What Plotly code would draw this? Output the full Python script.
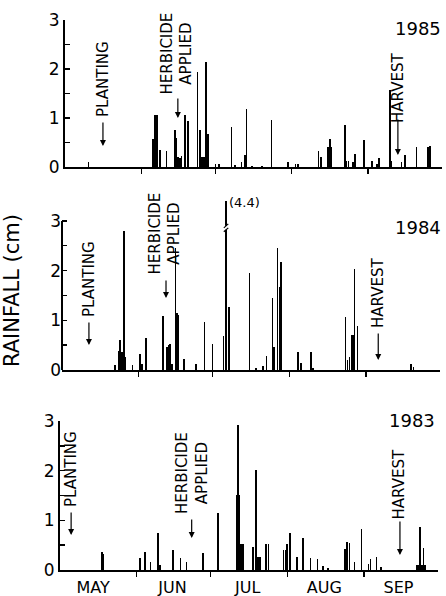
import plotly.graph_objects as go

# ---------------- data ----------------
months = ["MAY", "JUN", "JUL", "AUG", "SEP"]
month_label_days = [13.4, 45.5, 76.0, 107.0, 137.0]   # days after 1 May where month names sit
month_starts = [31, 61, 92, 123]                        # Jun 1, Jul 1, Aug 1, Sep 1
season_length = 153                                     # 1 May .. 30 Sep

years = ["1985", "1984", "1983"]

days_1985 = [9.5, 35.6, 36.5, 37.4, 38.5, 41.2, 44.6, 45.3, 45.9, 46.6, 47.2, 48.7, 50.0,
             53.8, 54.8, 55.6, 56.4, 57.1, 58.0, 61.0, 62.5, 67.6, 69.0, 71.7, 73.0, 73.7,
             76.0, 80.0, 83.8, 90.6, 93.5, 94.5, 102.8, 104.0, 106.8, 107.5, 108.2, 113.6,
             114.3, 115.0, 116.8, 117.6, 121.3, 124.6, 126.5, 127.5, 131.8, 132.5, 136.6,
             137.9, 142.7, 147.3, 148.1]
rain_1985 = [0.1, 0.57, 1.06, 1.06, 0.35, 0.33, 0.75, 0.6, 0.2, 0.18, 0.22, 1.07, 0.93,
             1.93, 0.75, 0.2, 0.2, 2.14, 0.68, 0.07, 0.07, 0.82, 0.05, 0.1, 0.24, 1.18,
             0.03, 0.03, 0.95, 0.11, 0.07, 0.07, 0.33, 0.21, 0.4, 0.57, 0.4, 0.86,
             0.12, 0.12, 0.1, 0.26, 0.55, 0.12, 0.07, 0.18, 1.57, 0.12, 0.1,
             0.25, 0.41, 0.41, 0.42]

days_1984 = [21.5, 22.8, 23.5, 24.2, 25.1, 25.6, 28.6, 31.6, 32.3, 33.9, 40.8, 42.4, 43.1,
             43.8, 44.4, 46.0, 46.5, 47.0, 49.4, 54.3, 57.6, 60.9, 65.3, 66.4, 67.7, 75.9,
             78.5, 81.4, 82.8, 85.2, 85.8, 87.3, 88.0, 88.7, 95.4, 96.7, 100.7, 101.5,
             114.8, 115.6, 116.4, 117.1, 117.7, 118.4, 119.6, 141.3, 142.3]
rain_1984 = [0.1, 0.39, 0.6, 0.37, 2.8, 0.27, 0.1, 0.33, 0.13, 0.65, 1.08, 0.47, 0.5,
             0.52, 0.13, 2.46, 1.14, 1.1, 0.23, 0.12, 0.96, 0.52, 0.69, 4.4, 1.27, 1.96,
             0.05, 0.08, 0.29, 1.44, 0.47, 2.46, 1.67, 2.18, 0.37, 0.15, 0.37, 0.05,
             1.06, 0.2, 0.27, 0.7, 0.7, 2.04, 0.88, 0.13, 0.07]

days_1983 = [16.9, 17.6, 32.5, 34.5, 36.6, 39.7, 40.5, 45.8, 48.7, 51.2, 58.0, 64.0, 71.6,
             72.1, 72.6, 73.3, 74.0, 78.2, 79.3, 80.1, 81.0, 83.5, 84.4, 90.5, 91.3, 92.0,
             93.0, 96.0, 98.3, 101.4, 104.2, 106.5, 108.5, 115.4, 116.2, 117.2, 119.2,
             122.0, 124.9, 125.6, 128.1, 130.0, 144.5, 145.2, 145.7, 146.4, 147.2, 147.8]
rain_1983 = [0.37, 0.32, 0.24, 0.36, 0.17, 0.74, 0.1, 0.4, 0.24, 0.16, 0.34, 1.15, 1.52,
             2.91, 1.52, 0.53, 0.53, 0.47, 2.02, 0.26, 0.26, 0.53, 0.53, 0.4, 0.4, 0.53,
             0.74, 0.27, 0.64, 0.24, 0.22, 0.09, 0.05, 0.42, 0.56, 0.54, 0.17,
             0.83, 0.12, 0.22, 0.27, 0.07, 0.1, 0.1, 0.86, 0.1, 0.44, 0.1]

planting_days = [15.4, 10.9, 4.5]
herbicide_days = [45.8, 42.1, 53.3]
harvest_days = [135.1, 128.0, 137.6]

y_tick_vals = [0, 0.5, 1, 1.5, 2, 2.5, 3]
y_tick_text = ["0", "", "1", "", "2", "", "3"]

# ---------------- layout geometry (pixels) ----------------
W, H = 446, 596
FONT = "DejaVu Sans"
panels = [
    dict(x0=65, x1=442, ybot=167, ytop=20, ymax=3.0),
    dict(x0=62, x1=440, ybot=370, ytop=201, ymax=3.4),
    dict(x0=60, x1=438, ybot=570, ytop=421, ymax=3.0),
]
series = [(days_1985, rain_1985), (days_1984, rain_1984), (days_1983, rain_1983)]

# label positions in pixels: (text centre x, text centre y, arrow tail y, arrow head y)
plant_px = [(103, 79, 121, 146), (89, 279, 321, 345), (71, 469, 511, 535)]
herb_px = [(176.5, 54, 97, 118), (164.5, 234, 279, 298), (192, 473, 518, 538)]
harv_px = [(398, 88, 118, 155), (378, 293, 332, 360), (398.5, 485, 520, 555)]
year_px = [(443, 28), (443, 227), (437, 420)]


def px(xp):
    return xp / W


def py(yp):
    return 1 - yp / H


fig = go.Figure()
annotations = []
shapes = []
layout = {}

for i, (p, (d, r)) in enumerate(zip(panels, series)):
    n = "" if i == 0 else str(i + 1)
    fig.add_trace(go.Bar(x=d, y=r, width=0.65, marker=dict(color="black", line=dict(width=0)),
                         xaxis="x" + n, yaxis="y" + n, showlegend=False, hoverinfo="skip"))
    layout["xaxis" + n] = dict(
        domain=[px(p["x0"]), px(p["x1"])], range=[0, season_length], anchor="y" + n,
        showline=True, linewidth=2, linecolor="black", showgrid=False, zeroline=False,
        tickmode="array", tickvals=month_label_days, ticktext=months, ticks="",
        showticklabels=(i == 2), tickfont=dict(family=FONT, size=16, color="black"),
        ticklabelstandoff=2,
        minor=dict(tickmode="array", tickvals=month_starts, ticks="outside", ticklen=5,
                   tickwidth=1.5, tickcolor="black", showgrid=False),
        automargin=False, fixedrange=True)
    layout["yaxis" + n] = dict(
        domain=[py(p["ybot"]), py(p["ytop"])], range=[0, p["ymax"]], anchor="x" + n,
        showline=(i != 1), linewidth=2, linecolor="black", showgrid=False, zeroline=False,
        tickmode="array", tickvals=y_tick_vals, ticktext=y_tick_text, ticks="inside",
        ticklen=5, tickwidth=1.5, tickcolor="black",
        tickfont=dict(family=FONT, size=17, color="black"),
        automargin=False, fixedrange=True)

    # event labels + arrows
    for label, evd, (tx, ty, tail, head) in [
        ("PLANTING", planting_days[i], plant_px[i]),
        ("HERBICIDE<br>APPLIED", herbicide_days[i], herb_px[i]),
        ("HARVEST", harvest_days[i], harv_px[i]),
    ]:
        annotations.append(dict(text=label, xref="paper", yref="paper", x=px(tx), y=py(ty),
                                xanchor="center", yanchor="middle", textangle=-90,
                                showarrow=False, align="center",
                                font=dict(family=FONT, size=15, color="black")))
        annotations.append(dict(text="", xref="x" + n, yref="paper", x=evd, y=py(head),
                                ax=0, ay=tail - head, showarrow=True, arrowhead=2,
                                arrowsize=1, arrowwidth=1.2, arrowcolor="black"))
    # year label
    annotations.append(dict(text=years[i], xref="paper", yref="paper",
                            x=px(year_px[i][0]), y=py(year_px[i][1]),
                            xanchor="right", yanchor="middle", showarrow=False,
                            font=dict(family=FONT, size=18, color="black")))

# y-axis line of the 1984 panel only reaches 3 (spike above is broken)
shapes.append(dict(type="line", xref="x2 domain", yref="y2", x0=0, x1=0, y0=0, y1=3,
                   line=dict(color="black", width=2)))
# break mark on the off-scale spike in 1984
imax = rain_1984.index(max(rain_1984))
dmax = days_1984[imax]
shapes.append(dict(type="rect", xref="x2", yref="y2", x0=dmax - 1.0, x1=dmax + 1.0,
                   y0=2.82, y1=2.9, fillcolor="white", line=dict(width=0)))
shapes.append(dict(type="line", xref="x2", yref="y2", x0=dmax - 0.9, x1=dmax + 0.9,
                   y0=2.78, y1=2.86, line=dict(color="black", width=1.2)))
shapes.append(dict(type="line", xref="x2", yref="y2", x0=dmax - 0.9, x1=dmax + 0.9,
                   y0=2.86, y1=2.94, line=dict(color="black", width=1.2)))
annotations.append(dict(text="(%.1f)" % max(rain_1984), xref="x2", yref="y2",
                        x=dmax + 0.4, y=3.36, xanchor="left", yanchor="middle",
                        showarrow=False, font=dict(family=FONT, size=13, color="black")))

# y axis title
annotations.append(dict(text="RAINFALL (cm)", xref="paper", yref="paper", x=px(12), y=py(291),
                        xanchor="center", yanchor="middle", textangle=-90, showarrow=False,
                        font=dict(family=FONT, size=21, color="black")))

fig.update_layout(width=W, height=H, margin=dict(l=0, r=0, t=0, b=0), autosize=False,
                  paper_bgcolor="white", plot_bgcolor="white", barmode="overlay",
                  bargap=0, annotations=annotations, shapes=shapes, showlegend=False,
                  template="none", **layout)
fig.write_html("out.html", config={"displayModeBar": False, "staticPlot": True},
               post_script="document.body.style.margin='0px';"
                           "document.body.style.padding='0px';"
                           "document.body.style.overflow='hidden';")
